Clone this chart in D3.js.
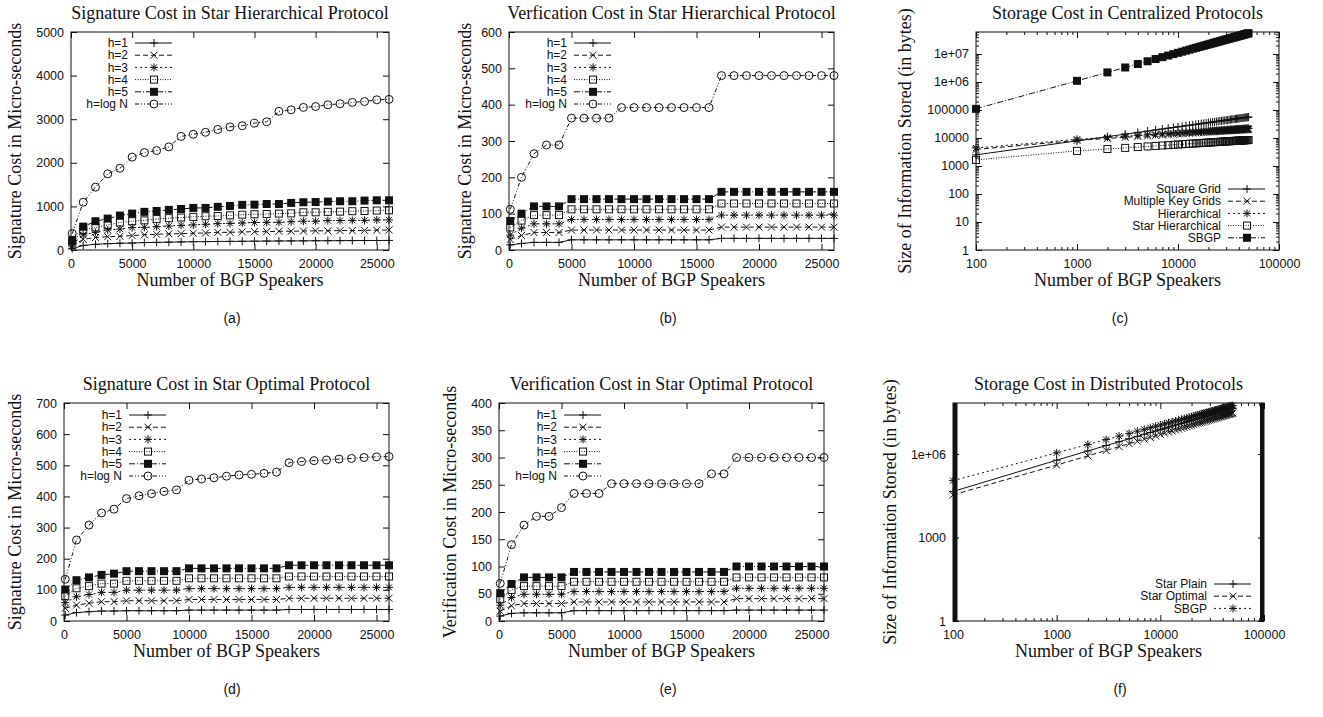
<!DOCTYPE html>
<html>
<head>
<meta charset="utf-8">
<script src="https://cdn.jsdelivr.net/npm/d3@7"></script>
<style>
  body { margin: 0; background: #fff; }
</style>
</head>
<body>
<div id="chart"></div>
<script>
// ---- data ----

// number of BGP speakers (linear panels a, b, d, e)
var linX = [100, 1000, 2000, 3000, 4000, 5000, 6000, 7000, 8000, 9000, 10000, 11000, 12000, 13000,
  14000, 15000, 16000, 17000, 18000, 19000, 20000, 21000, 22000, 23000, 24000, 25000, 26000];

// (a) signature cost, star hierarchical
var sigHierH1 = [30, 105, 130, 145, 155, 160, 170, 175, 180, 185, 190, 192, 195, 198, 200, 202, 205, 207, 208, 210, 212, 213, 215, 216, 217, 218, 220];
var sigHierH2 = [90, 245, 285, 305, 315, 330, 350, 360, 370, 375, 385, 390, 405, 405, 415, 420, 420, 430, 430, 435, 440, 440, 445, 445, 450, 455, 460];
var sigHierH3 = [130, 345, 405, 460, 480, 515, 520, 535, 550, 565, 575, 590, 605, 610, 620, 630, 635, 635, 650, 660, 660, 675, 675, 680, 680, 690, 690];
var sigHierH4 = [170, 460, 515, 575, 630, 660, 680, 710, 730, 745, 760, 775, 780, 795, 810, 820, 825, 835, 840, 865, 865, 875, 880, 890, 895, 905, 910];
var sigHierH5 = [230, 535, 660, 720, 790, 835, 875, 895, 920, 940, 965, 965, 990, 1010, 1035, 1040, 1055, 1055, 1080, 1095, 1100, 1110, 1118, 1118, 1133, 1140, 1140];
var sigHierLog = [380, 1095, 1440, 1745, 1875, 2130, 2235, 2280, 2365, 2605, 2655, 2700, 2765, 2825, 2850, 2910, 2940, 3180, 3215, 3270, 3290, 3330, 3355, 3385, 3405, 3445, 3455];

// (b) verification cost, star hierarchical
var verHierH1 = [14, 18, 21, 21, 21, 28, 28, 28, 28, 28, 28, 28, 28, 28, 28, 28, 28, 32, 32, 32, 32, 32, 32, 32, 32, 32, 32];
var verHierH2 = [29, 40, 48, 48, 48, 55, 55, 55, 55, 55, 55, 55, 55, 55, 55, 55, 55, 63, 63, 63, 63, 63, 63, 63, 63, 63, 63];
var verHierH3 = [41, 60, 72, 72, 72, 84, 84, 84, 84, 84, 84, 84, 84, 84, 84, 84, 84, 96, 96, 96, 96, 96, 96, 96, 96, 96, 96];
var verHierH4 = [62, 81, 96, 96, 96, 112, 112, 112, 112, 112, 112, 112, 112, 112, 112, 112, 112, 128, 128, 128, 128, 128, 128, 128, 128, 128, 128];
var verHierH5 = [80, 100, 120, 120, 120, 140, 140, 140, 140, 140, 140, 140, 140, 140, 140, 140, 140, 160, 160, 160, 160, 160, 160, 160, 160, 160, 160];
var verHierLog = [112, 200, 265, 289, 289, 363, 363, 363, 363, 392, 392, 392, 392, 392, 392, 392, 392, 480, 480, 480, 480, 480, 480, 480, 480, 480, 480];

// (d) signature cost, star optimal
var sigOptH1 = [19, 27, 30, 32, 32, 33, 33, 33, 33, 33, 35, 35, 35, 35, 35, 35, 35, 35, 37, 37, 37, 37, 37, 37, 37, 37, 37];
var sigOptH2 = [41, 51, 57, 62, 62, 65, 65, 65, 65, 65, 69, 69, 69, 69, 69, 69, 69, 69, 73, 73, 73, 73, 73, 73, 73, 73, 73];
var sigOptH3 = [59, 78, 85, 92, 92, 99, 99, 99, 99, 99, 104, 104, 104, 104, 104, 104, 104, 104, 108, 108, 108, 108, 108, 108, 108, 108, 108];
var sigOptH4 = [80, 105, 112, 120, 120, 129, 129, 129, 129, 129, 137, 137, 137, 137, 137, 137, 137, 137, 143, 143, 143, 143, 143, 143, 143, 143, 143];
var sigOptH5 = [101, 131, 140, 148, 152, 160, 160, 160, 160, 160, 169, 169, 169, 169, 169, 169, 169, 169, 179, 179, 179, 179, 179, 179, 179, 179, 179];
var sigOptLog = [134, 260, 308, 347, 359, 393, 402, 409, 416, 421, 452, 456, 460, 465, 469, 471, 474, 478, 508, 512, 515, 517, 520, 522, 525, 527, 528];

// (e) verification cost, star optimal
var verOptH1 = [9, 14, 15, 15, 15, 15, 19, 19, 19, 19, 19, 19, 19, 19, 19, 19, 19, 19, 19, 20, 20, 20, 20, 20, 20, 20, 20];
var verOptH2 = [18, 28, 32, 32, 32, 32, 35, 35, 35, 35, 35, 35, 35, 35, 35, 35, 35, 35, 35, 41, 41, 41, 41, 41, 41, 41, 41];
var verOptH3 = [29, 43, 49, 49, 49, 49, 54, 54, 54, 54, 54, 54, 54, 54, 54, 54, 54, 54, 54, 60, 60, 60, 60, 60, 60, 60, 60];
var verOptH4 = [40, 57, 64, 64, 64, 64, 72, 72, 72, 72, 72, 72, 72, 72, 72, 72, 72, 72, 72, 80, 80, 80, 80, 80, 80, 80, 80];
var verOptH5 = [51, 68, 80, 80, 80, 80, 90, 90, 90, 90, 90, 90, 90, 90, 90, 90, 90, 90, 90, 100, 100, 100, 100, 100, 100, 100, 100];
var verOptLog = [69, 140, 176, 192, 192, 208, 234, 234, 234, 252, 252, 252, 252, 252, 252, 252, 252, 270, 270, 300, 300, 300, 300, 300, 300, 300, 300];

// number of BGP speakers (log panels c, f)
var logX = [100, 1000, 2000, 3000, 4000, 5000, 6000, 7000, 8000, 9000, 10000, 11000, 12000, 13000, 14000, 15000,
  16000, 17000, 18000, 19000, 20000, 21000, 22000, 23000, 24000, 25000, 26000, 27000, 28000, 29000, 30000, 31000,
  32000, 33000, 34000, 35000, 36000, 37000, 38000, 39000, 40000, 41000, 42000, 43000, 44000, 45000, 46000, 47000,
  48000, 49000, 50000];

// (c) storage, centralized protocols (bytes)
var squareGrid = [2500, 7900, 11200, 13700, 15800, 17700, 19400, 20900, 22400, 23700, 25000, 26200, 27400, 28500, 29600,
  30600, 31600, 32600, 33500, 34500, 35400, 36200, 37100, 37900, 38700, 39500, 40300, 41100, 41800, 42600, 43300,
  44000, 44700, 45400, 46100, 46800, 47400, 48100, 48700, 49400, 50000, 50600, 51200, 51800, 52400, 53000, 53600,
  54200, 54800, 55300, 55900];
var multiKeyGrids = [3900, 8200, 9620, 10560, 11280, 11870, 12380, 12830, 13230, 13600, 13920, 14240, 14520, 14790, 15050,
  15280, 15510, 15740, 15940, 16140, 16330, 16510, 16700, 16870, 17030, 17200, 17350, 17500, 17650, 17790, 17930,
  18060, 18200, 18330, 18450, 18570, 18700, 18820, 18930, 19040, 19160, 19260, 19370, 19480, 19580, 19680, 19780,
  19880, 19980, 20070, 20160];
var hierarchical = [4400, 9000, 10560, 11590, 12380, 13030, 13590, 14090, 14520, 14920, 15280, 15620, 15940, 16240, 16520,
  16780, 17030, 17270, 17500, 17710, 17930, 18130, 18320, 18510, 18690, 18870, 19040, 19210, 19370, 19520, 19670,
  19830, 19970, 20120, 20250, 20390, 20520, 20660, 20780, 20900, 21020, 21140, 21260, 21380, 21490, 21600, 21710,
  21820, 21920, 22030, 22130];
var starHier = [1650, 3450, 4050, 4440, 4750, 5000, 5210, 5400, 5560, 5720, 5860, 5990, 6110, 6220, 6330, 6430, 6530,
  6620, 6710, 6790, 6870, 6950, 7020, 7100, 7170, 7230, 7300, 7360, 7420, 7480, 7540, 7600, 7660, 7710, 7760, 7810,
  7870, 7920, 7970, 8010, 8060, 8100, 8150, 8190, 8240, 8280, 8320, 8360, 8400, 8450, 8480];
var sbgp = [1.1e5, 1.1e6, 2.2e6, 3.3e6, 4.4e6, 5.5e6, 6.6e6, 7.7e6, 8.8e6, 9.9e6, 1.1e7, 1.21e7, 1.32e7, 1.43e7, 1.54e7,
  1.65e7, 1.76e7, 1.87e7, 1.98e7, 2.09e7, 2.2e7, 2.31e7, 2.42e7, 2.53e7, 2.64e7, 2.75e7, 2.86e7, 2.97e7, 3.08e7,
  3.19e7, 3.3e7, 3.41e7, 3.52e7, 3.63e7, 3.74e7, 3.85e7, 3.96e7, 4.07e7, 4.18e7, 4.29e7, 4.4e7, 4.51e7, 4.62e7,
  4.73e7, 4.84e7, 4.95e7, 5.06e7, 5.17e7, 5.28e7, 5.39e7, 5.5e7];

// (f) storage, distributed protocols (bytes)
var starPlain = [4.5e4, 6.0e5, 1.29e6, 2.01e6, 2.76e6, 3.52e6, 4.31e6, 5.10e6, 5.91e6, 6.73e6, 7.55e6, 8.39e6, 9.23e6,
  1.008e7, 1.094e7, 1.18e7, 1.267e7, 1.354e7, 1.442e7, 1.53e7, 1.619e7, 1.708e7, 1.798e7, 1.888e7, 1.979e7, 2.069e7,
  2.161e7, 2.252e7, 2.344e7, 2.437e7, 2.529e7, 2.621e7, 2.715e7, 2.808e7, 2.902e7, 2.996e7, 3.09e7, 3.185e7, 3.28e7,
  3.374e7, 3.469e7, 3.565e7, 3.661e7, 3.757e7, 3.853e7, 3.949e7, 4.046e7, 4.142e7, 4.24e7, 4.337e7, 4.434e7];
var starOptimal = [3.4e4, 4.0e5, 8.6e5, 1.34e6, 1.84e6, 2.35e6, 2.87e6, 3.40e6, 3.94e6, 4.48e6, 5.04e6, 5.59e6, 6.16e6,
  6.72e6, 7.29e6, 7.87e6, 8.44e6, 9.03e6, 9.61e6, 1.02e7, 1.08e7, 1.139e7, 1.199e7, 1.259e7, 1.319e7, 1.38e7, 1.44e7,
  1.502e7, 1.563e7, 1.624e7, 1.686e7, 1.748e7, 1.81e7, 1.872e7, 1.935e7, 1.997e7, 2.06e7, 2.123e7, 2.186e7, 2.25e7,
  2.313e7, 2.377e7, 2.44e7, 2.504e7, 2.568e7, 2.633e7, 2.697e7, 2.762e7, 2.826e7, 2.891e7, 2.956e7];
var sbgpDist = sbgp;

var hLabels = ["h=1", "h=2", "h=3", "h=4", "h=5", "h=log N"];
var centLabels = ["Square Grid", "Multiple Key Grids", "Hierarchical", "Star Hierarchical", "SBGP"];
var distLabels = ["Star Plain", "Star Optimal", "SBGP"];

// ---- drawing ----
var ink = "#111";
var serif = "'Liberation Serif', 'Times New Roman', serif";
var sans = "'Liberation Sans', Arial, sans-serif";

var svg = d3.select("#chart")
  .append("svg")
    .attr("width", 1323)
    .attr("height", 717);

svg.append("rect").attr("width", 1323).attr("height", 717).attr("fill", "#fff");

// gnuplot line types 1..6
var styles = [
  {dash: null,            marker: "plus"},
  {dash: "5,3",           marker: "cross"},
  {dash: "2,3",           marker: "star"},
  {dash: "1,1.5",         marker: "box"},
  {dash: "6,2,1,2",       marker: "fbox"},
  {dash: "4,2,1,2,1,2",   marker: "circle"}
];

function drawMarker(g, type, cx, cy) {
  if (type == "plus" || type == "star") {
    g.append("path").attr("d", `M${cx-4},${cy}H${cx+4}M${cx},${cy-4}V${cy+4}`)
      .attr("stroke", ink).attr("fill", "none");
  }
  if (type == "cross" || type == "star") {
    var a = type == "star" ? 3 : 3.5;
    g.append("path").attr("d", `M${cx-a},${cy-a}L${cx+a},${cy+a}M${cx-a},${cy+a}L${cx+a},${cy-a}`)
      .attr("stroke", ink).attr("fill", "none");
  }
  if (type == "box") {
    g.append("rect").attr("x", cx-3.5).attr("y", cy-3.5).attr("width", 7).attr("height", 7)
      .attr("stroke", ink).attr("fill", "none");
  }
  if (type == "fbox") {
    g.append("rect").attr("x", cx-4).attr("y", cy-4).attr("width", 8).attr("height", 8)
      .attr("fill", ink);
  }
  if (type == "circle") {
    g.append("circle").attr("cx", cx).attr("cy", cy).attr("r", 4)
      .attr("stroke", ink).attr("fill", "none");
  }
}

function logMinor(lo, hi) {
  var out = [];
  for (var p = Math.floor(Math.log10(lo)); p <= Math.ceil(Math.log10(hi)); p++) {
    for (var j = 2; j <= 9; j++) {
      var v = j * Math.pow(10, p);
      if (v > lo && v < hi) out.push(v);
    }
  }
  return out;
}

function styleAxis(sel) {
  sel.select(".domain").remove();
  sel.selectAll("line").attr("stroke", ink);
  sel.selectAll("text").attr("fill", ink).style("font-family", sans).style("font-size", "12.5px");
}

function drawPanel(p) {
  var g = svg.append("g");

  var x = (p.xLog ? d3.scaleLog() : d3.scaleLinear()).domain(p.xDomain).range([p.left, p.right]);
  var y = (p.yLog ? d3.scaleLog() : d3.scaleLinear()).domain(p.yDomain).range([p.bottom, p.top]);

  // ticks with labels (bottom, left) and mirrored ticks (top, right)
  g.append("g").attr("transform", `translate(0,${p.bottom})`)
    .call(d3.axisBottom(x).tickValues(p.xTicks).tickFormat(d3.format("d")).tickSizeInner(-6).tickSizeOuter(0).tickPadding(9))
    .call(styleAxis);
  g.append("g").attr("transform", `translate(0,${p.top})`)
    .call(d3.axisTop(x).tickValues(p.xTicks).tickFormat("").tickSizeInner(-6).tickSizeOuter(0))
    .call(styleAxis);
  g.append("g").attr("transform", `translate(${p.left},0)`)
    .call(d3.axisLeft(y).tickValues(p.yTicks).tickFormat(p.yFormat || d3.format("d")).tickSizeInner(-6).tickSizeOuter(0).tickPadding(7))
    .call(styleAxis);
  g.append("g").attr("transform", `translate(${p.right},0)`)
    .call(d3.axisRight(y).tickValues(p.yTicks).tickFormat("").tickSizeInner(-6).tickSizeOuter(0))
    .call(styleAxis);

  // minor ticks on log axes
  if (p.xLog) {
    var mx = logMinor(p.xDomain[0], p.xDomain[1]);
    g.append("g").attr("transform", `translate(0,${p.bottom})`)
      .call(d3.axisBottom(x).tickValues(mx).tickFormat("").tickSizeInner(-3).tickSizeOuter(0)).call(styleAxis);
    g.append("g").attr("transform", `translate(0,${p.top})`)
      .call(d3.axisTop(x).tickValues(mx).tickFormat("").tickSizeInner(-3).tickSizeOuter(0)).call(styleAxis);
  }
  if (p.yLog && !p.denseY) {
    var my = logMinor(p.yDomain[0], p.yDomain[1]);
    g.append("g").attr("transform", `translate(${p.left},0)`)
      .call(d3.axisLeft(y).tickValues(my).tickFormat("").tickSizeInner(-3).tickSizeOuter(0)).call(styleAxis);
    g.append("g").attr("transform", `translate(${p.right},0)`)
      .call(d3.axisRight(y).tickValues(my).tickFormat("").tickSizeInner(-3).tickSizeOuter(0)).call(styleAxis);
  }
  if (p.denseY) {
    // the dense minor ticks of this panel merge into solid bars
    g.append("rect").attr("x", p.left).attr("y", p.top).attr("width", 4.5).attr("height", p.bottom - p.top).attr("fill", ink);
    g.append("rect").attr("x", p.right - 4).attr("y", p.top).attr("width", 4).attr("height", p.bottom - p.top).attr("fill", ink);
  }

  // frame
  g.append("rect")
    .attr("x", p.left).attr("y", p.top)
    .attr("width", p.right - p.left).attr("height", p.bottom - p.top)
    .attr("fill", "none").attr("stroke", ink);

  // series
  var line = d3.line().x(d => x(d[0])).y(d => y(d[1]));
  p.series.forEach(function(s, i) {
    var st = styles[i];
    var pts = p.xs.map((v, k) => [v, s[k]]);
    g.append("path")
      .attr("d", line(pts))
      .attr("fill", "none")
      .attr("stroke", ink)
      .attr("stroke-width", 1)
      .attr("stroke-dasharray", st.dash);
    var mg = g.append("g");
    pts.forEach(d => drawMarker(mg, st.marker, x(d[0]), y(d[1])));
  });

  // legend
  p.labels.forEach(function(lab, i) {
    var st = styles[i];
    var ry = p.legendTop + i * 12.2;
    g.append("text")
      .attr("x", p.legendRight).attr("y", ry).attr("dy", "0.35em")
      .attr("text-anchor", "end")
      .style("font-family", sans).style("font-size", "12px").attr("fill", ink)
      .text(lab);
    g.append("line")
      .attr("x1", p.legendRight + 7).attr("x2", p.legendRight + 44)
      .attr("y1", ry).attr("y2", ry)
      .attr("stroke", ink).attr("stroke-dasharray", st.dash);
    drawMarker(g, st.marker, p.legendRight + 26, ry);
  });

  // title and axis labels
  var cx = (p.left + p.right) / 2;
  g.append("text").attr("x", cx).attr("y", p.top - 13).attr("text-anchor", "middle")
    .style("font-family", serif).style("font-size", "18px").attr("fill", ink).text(p.title);
  g.append("text").attr("x", cx).attr("y", p.bottom + 36).attr("text-anchor", "middle")
    .style("font-family", serif).style("font-size", "18px").attr("fill", ink).text("Number of BGP Speakers");
  g.append("text")
    .attr("transform", `translate(${p.yLabelX},${(p.top + p.bottom) / 2})rotate(-90)`)
    .attr("text-anchor", "middle").attr("dy", "0.35em")
    .style("font-family", serif).style("font-size", "18px").attr("fill", ink).text(p.yLabel);
  g.append("text").attr("x", p.subX).attr("y", p.bottom + 73).attr("text-anchor", "middle")
    .style("font-family", sans).style("font-size", "14px").attr("fill", ink).text(p.sub);
}

var linXTicks = [0, 5000, 10000, 15000, 20000, 25000];
var logXTicks = [100, 1000, 10000, 100000];
var expFormat = function(v) { return v >= 1e6 ? "1e+" + d3.format("02d")(Math.round(Math.log10(v))) : String(v); };

drawPanel({
  left: 71, right: 389, top: 32, bottom: 250,
  xDomain: [0, 26000], yDomain: [0, 5000],
  xTicks: linXTicks, yTicks: [0, 1000, 2000, 3000, 4000, 5000],
  xs: linX, series: [sigHierH1, sigHierH2, sigHierH3, sigHierH4, sigHierH5, sigHierLog], labels: hLabels,
  legendRight: 128, legendTop: 43,
  title: "Signature Cost in Star Hierarchical Protocol", yLabel: "Signature Cost in Micro-seconds",
  yLabelX: 15, sub: "(a)", subX: 232
});
drawPanel({
  left: 509, right: 834, top: 32, bottom: 250,
  xDomain: [0, 26000], yDomain: [0, 600],
  xTicks: linXTicks, yTicks: [0, 100, 200, 300, 400, 500, 600],
  xs: linX, series: [verHierH1, verHierH2, verHierH3, verHierH4, verHierH5, verHierLog], labels: hLabels,
  legendRight: 567, legendTop: 43,
  title: "Verfication Cost in Star Hierarchical Protocol", yLabel: "Signature Cost in Micro-seconds",
  yLabelX: 465, sub: "(b)", subX: 668
});
drawPanel({
  left: 976, right: 1279, top: 32, bottom: 250, xLog: true, yLog: true,
  xDomain: [100, 100000], yDomain: [1, 6.1e7],
  xTicks: logXTicks, yTicks: [1, 10, 100, 1000, 10000, 100000, 1e6, 1e7], yFormat: expFormat,
  xs: logX, series: [squareGrid, multiKeyGrids, hierarchical, starHier, sbgp], labels: centLabels,
  legendRight: 1221, legendTop: 189,
  title: "Storage Cost in Centralized Protocols", yLabel: "Size of Information Stored (in bytes)",
  yLabelX: 905, sub: "(c)", subX: 1120
});
drawPanel({
  left: 64, right: 389, top: 403, bottom: 621,
  xDomain: [0, 26000], yDomain: [0, 700],
  xTicks: linXTicks, yTicks: [0, 100, 200, 300, 400, 500, 600, 700],
  xs: linX, series: [sigOptH1, sigOptH2, sigOptH3, sigOptH4, sigOptH5, sigOptLog], labels: hLabels,
  legendRight: 122, legendTop: 415,
  title: "Signature Cost in Star Optimal Protocol", yLabel: "Signature Cost in Micro-seconds",
  yLabelX: 15, sub: "(d)", subX: 232
});
drawPanel({
  left: 499, right: 824, top: 403, bottom: 621,
  xDomain: [0, 26000], yDomain: [0, 400],
  xTicks: linXTicks, yTicks: [0, 50, 100, 150, 200, 250, 300, 350, 400],
  xs: linX, series: [verOptH1, verOptH2, verOptH3, verOptH4, verOptH5, verOptLog], labels: hLabels,
  legendRight: 557, legendTop: 415,
  title: "Verification Cost in Star Optimal Protocol", yLabel: "Verification Cost in Micro-seconds",
  yLabelX: 450, sub: "(e)", subX: 668
});
drawPanel({
  left: 953, right: 1264, top: 403, bottom: 621, xLog: true, yLog: true, denseY: true,
  xDomain: [100, 100000], yDomain: [1, 6.8e7],
  xTicks: logXTicks, yTicks: [1, 1000, 1e6], yFormat: expFormat,
  xs: logX, series: [starPlain, starOptimal, sbgpDist], labels: distLabels,
  legendRight: 1207, legendTop: 584,
  title: "Storage Cost in Distributed Protocols", yLabel: "Size of Information Stored (in bytes)",
  yLabelX: 890, sub: "(f)", subX: 1120
});
</script>
</body>
</html>
